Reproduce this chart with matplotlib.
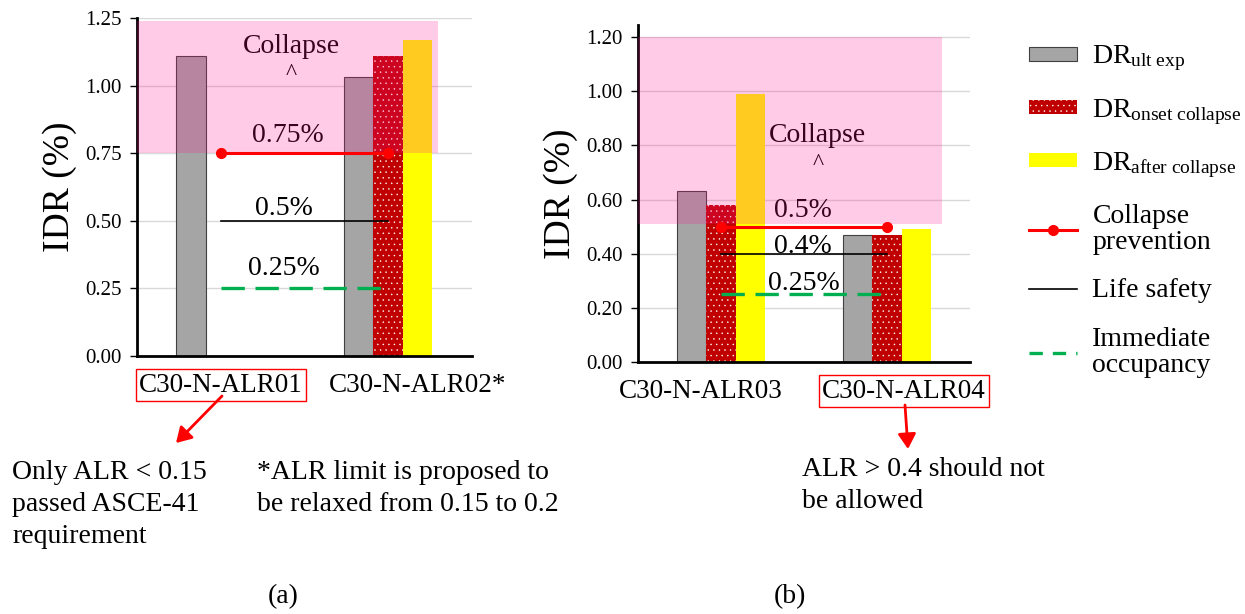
import numpy as np
import matplotlib.pyplot as plt
from matplotlib.patches import Patch
from matplotlib.lines import Line2D
from matplotlib.transforms import ScaledTranslation

plt.rcParams['font.family'] = ['Liberation Serif', 'DejaVu Serif']
plt.rcParams['mathtext.fontset'] = 'custom'
plt.rcParams['mathtext.rm'] = 'Liberation Serif'
plt.rcParams['mathtext.it'] = 'Liberation Serif:italic'
plt.rcParams['hatch.linewidth'] = 0.3

# (a) specimens
categories_a = ['C30-N-ALR01', 'C30-N-ALR02*']
ult_exp_a = [1.11, 1.03]
onset_a = [0.0, 1.11]
after_a = [0.0, 1.17]
limits_a = [0.75, 0.5, 0.25]          # collapse prevention, life safety, immediate occupancy
collapse_zone_a = (0.75, 1.24)
yticks_a = [0.00, 0.25, 0.50, 0.75, 1.00, 1.25]

# (b) specimens
categories_b = ['C30-N-ALR03', 'C30-N-ALR04']
ult_exp_b = [0.63, 0.47]
onset_b = [0.58, 0.47]
after_b = [0.99, 0.49]
limits_b = [0.5, 0.4, 0.25]
collapse_zone_b = (0.51, 1.20)
yticks_b = [0.00, 0.20, 0.40, 0.60, 0.80, 1.00, 1.20]

GRAY = '#a5a5a5'
RED = '#c00000'
YELLOW = '#ffff00'
PINK = '#ff1493'
DOTS = '...'

fig = plt.figure(figsize=(12.45, 6.14), dpi=100)
ax_a = fig.add_axes([0.1100, 0.4202, 0.2691, 0.5505])
ax_b = fig.add_axes([0.5124, 0.4104, 0.2667, 0.5489])

w = 0.176


def draw_panel(ax, cats, ult, onset, after, limits, zone, yticks, ylim, zone_xmax,
               texts, label_shift):
    x = np.arange(len(cats))
    ax.bar(x - w, ult, w, color=GRAY, edgecolor='#404040', linewidth=0.8, zorder=2)
    ax.bar(x, onset, w, color=RED, edgecolor='white', hatch=DOTS, linewidth=0, zorder=2)
    ax.bar(x + w, after, w, color=YELLOW, linewidth=0, zorder=2)

    # collapse zone shading sits over the bars
    ax.axhspan(zone[0], zone[1], xmin=0, xmax=zone_xmax, color=PINK, alpha=0.22,
               linewidth=0, zorder=4)

    ax.plot([x[0], x[-1]], [limits[0]] * 2, color='red', lw=2.2, marker='o',
            markersize=7, zorder=6)
    ax.plot([x[0], x[-1]], [limits[1]] * 2, color='black', lw=1.2, zorder=6)
    ax.plot([x[0], x[-1]], [limits[2]] * 2, color='#00b050', lw=2.4,
            dashes=(7, 3.2), zorder=6)

    for tx, ty, s, size in texts:
        ax.text(tx, ty, s, ha='center', va='center', fontsize=size, zorder=3)

    ax.set_xlim(-0.5, 1.5)
    ax.set_ylim(*ylim)
    ax.set_yticks(yticks)
    ax.set_yticklabels(['{:.2f}'.format(v) for v in yticks], fontsize=15)
    ax.set_xticks(x)
    ax.set_xticklabels(cats, fontsize=19.5)
    ax.tick_params(axis='x', length=0, pad=12)
    ax.tick_params(axis='y', length=5, width=1, pad=6, direction='out')
    ax.grid(axis='y', color='#d9d9d9', lw=1, zorder=0)
    ax.set_axisbelow(True)
    for side in ['top', 'right']:
        ax.spines[side].set_visible(False)
    for side in ['left', 'bottom']:
        ax.spines[side].set_linewidth(2)
    ax.set_ylabel('IDR (%)', fontsize=27, labelpad=6)

    for lab, dx in zip(ax.get_xticklabels(), label_shift):
        lab.set_transform(lab.get_transform() + ScaledTranslation(dx / 100, 0, fig.dpi_scale_trans))


draw_panel(ax_a, categories_a, ult_exp_a, onset_a, after_a, limits_a, collapse_zone_a,
           yticks_a, (0, 1.25), 0.90,
           [(0.42, 1.143, 'Collapse', 20), (0.42, 1.045, '^', 17),
            (0.40, 0.817, '0.75%', 20), (0.38, 0.547, '0.5%', 20),
            (0.38, 0.325, '0.25%', 20)],
           [0, 29])
draw_panel(ax_b, categories_b, ult_exp_b, onset_b, after_b, limits_b, collapse_zone_b,
           yticks_b, (0, 1.245), 0.916,
           [(0.584, 0.838, 'Collapse', 20), (0.584, 0.735, '^', 17),
            (0.494, 0.558, '0.5%', 20), (0.494, 0.425, '0.4%', 20),
            (0.50, 0.29, '0.25%', 20)],
           [-20, 17])

# boxed specimen names
for lab in [ax_a.get_xticklabels()[0], ax_b.get_xticklabels()[1]]:
    lab.set_bbox(dict(boxstyle='square,pad=0.12', fc='none', ec='red', lw=1))

# notes and arrows
arrow = dict(arrowstyle='-|>,head_length=0.5,head_width=0.3', color='red', lw=2,
             mutation_scale=18, shrinkA=0, shrinkB=0)
ax_a.annotate('', xy=(176 / 1245, 1 - 443 / 614), xytext=(222 / 1245, 1 - 396 / 614),
              xycoords='figure fraction', textcoords='figure fraction', arrowprops=arrow,
              annotation_clip=False)
ax_b.annotate('', xy=(908 / 1245, 1 - 449 / 614), xytext=(905 / 1245, 1 - 405 / 614),
              xycoords='figure fraction', textcoords='figure fraction', arrowprops=arrow,
              annotation_clip=False)

fig.text(12 / 1245, 1 - 460 / 614, 'Only ALR < 0.15\npassed ASCE-41\nrequirement',
         fontsize=20, va='top', ha='left', linespacing=1.38)
fig.text(257 / 1245, 1 - 460 / 614, '*ALR limit is proposed to\nbe relaxed from 0.15 to 0.2',
         fontsize=20, va='top', ha='left', linespacing=1.38)
fig.text(802 / 1245, 1 - 457 / 614, 'ALR > 0.4 should not\nbe allowed',
         fontsize=20, va='top', ha='left', linespacing=1.38)
fig.text(283 / 1245, 1 - 597 / 614, '(a)', fontsize=20, ha='center', va='center')
fig.text(790 / 1245, 1 - 597 / 614, '(b)', fontsize=20, ha='center', va='center')

handles = [
    Patch(facecolor=GRAY, edgecolor='#404040', linewidth=0.8),
    Patch(facecolor=RED, edgecolor='white', hatch=DOTS, linewidth=0),
    Patch(facecolor=YELLOW, linewidth=0),
    Line2D([], [], color='red', lw=2.2, marker='o', markersize=7),
    Line2D([], [], color='black', lw=1.2),
    Line2D([], [], color='#00b050', lw=2.4, dashes=(4, 3)),
]
labels = [
    r'DR$_{\mathrm{ult\ exp}}$',
    r'DR$_{\mathrm{onset\ collapse}}$',
    r'DR$_{\mathrm{after\ collapse}}$',
    'Collapse\nprevention',
    'Life safety',
    'Immediate\noccupancy',
]
leg = fig.legend(handles, labels, loc='upper left', bbox_to_anchor=(1018 / 1245, 0.947),
                 frameon=False, fontsize=20, handlelength=1.73, handleheight=0.4,
                 handletextpad=0.55, labelspacing=0.85, borderaxespad=0)
for t in leg.get_texts():
    t.set_linespacing(1.05)

fig.savefig('out.png', dpi=100)
